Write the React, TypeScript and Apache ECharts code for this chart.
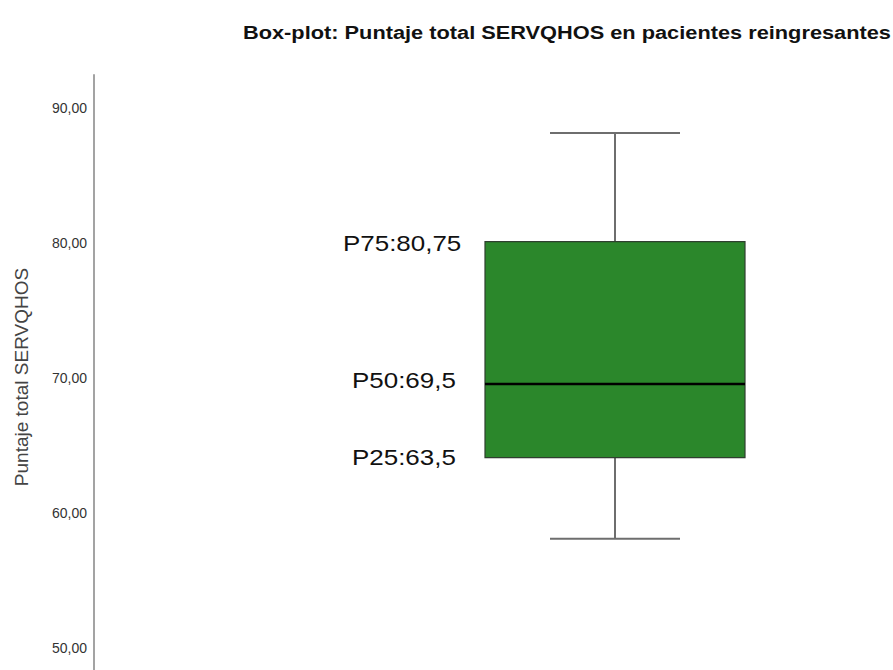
import React, { useEffect, useRef } from "react";
import * as echarts from "echarts";

const categories = ["Reingresantes"];
// [min, Q1, median, Q3, max] read from the drawn box
const boxValues = [58.1, 64.1, 69.55, 80.1, 88.15];
const tickValues = [50, 60, 70, 80, 90];
const annotationTexts = ["P75:80,75", "P50:69,5", "P25:63,5"];
const titleText = "Box-plot: Puntaje total SERVQHOS en pacientes reingresantes";
const yTitle = "Puntaje total SERVQHOS";

const FONT = "'Liberation Sans', Arial, sans-serif";

export default function App() {
  const ref = useRef<HTMLDivElement>(null);
  useEffect(() => {
    if (!ref.current) return;
    const chart = echarts.init(ref.current, undefined, { renderer: "svg" });
    const annPos = [
      { x: 343, y: 243 },
      { x: 352, y: 380 },
      { x: 352, y: 457 },
    ];
    chart.setOption({
      animation: false,
      backgroundColor: "#ffffff",
      grid: { left: 440, right: 103, top: 75, bottom: 0, containLabel: false },
      xAxis: {
        type: "category",
        data: categories,
        show: false,
      },
      yAxis: {
        type: "value",
        min: 48.37,
        max: 92.44,
        offset: 346,
        axisLine: { show: true, lineStyle: { color: "#a3a3a3", width: 2 } },
        axisTick: { show: false },
        splitLine: { show: false },
        axisLabel: {
          customValues: tickValues,
          margin: 7,
          fontFamily: FONT,
          fontSize: 14,
          color: "#333",
          formatter: (v: number) => v.toFixed(2).replace(".", ","),
        },
      },
      graphic: [
        {
          type: "text",
          x: 243,
          y: 33,
          scaleX: 1.21,
          style: {
            text: titleText,
            fontFamily: FONT,
            fontSize: 18,
            fontWeight: "bold",
            fill: "#111",
            align: "left",
            verticalAlign: "middle",
          },
        },
        {
          type: "text",
          x: 21,
          y: 377,
          rotation: Math.PI / 2,
          style: {
            text: yTitle,
            fontFamily: FONT,
            fontSize: 19,
            fill: "#444",
            align: "center",
            verticalAlign: "middle",
          },
        },
        ...annotationTexts.map((t, i) => ({
          type: "text",
          x: annPos[i].x,
          y: annPos[i].y,
          scaleX: 1.18,
          style: {
            text: t,
            fontFamily: FONT,
            fontSize: 22,
            fill: "#111",
            align: "left",
            verticalAlign: "middle",
          },
        })),
      ],
      series: [
        {
          type: "custom",
          data: [[0, ...boxValues]],
          encode: { x: 0, y: [1, 2, 3, 4, 5] },
          renderItem: (params: any, api: any) => {
            const x = api.value(0);
            const low = api.coord([x, api.value(1)]);
            const q1 = api.coord([x, api.value(2)]);
            const med = api.coord([x, api.value(3)]);
            const q3 = api.coord([x, api.value(4)]);
            const high = api.coord([x, api.value(5)]);
            const cx = low[0];
            const bw = 260;
            const cw = 130;
            const whisker = { stroke: "#6e6e6e", lineWidth: 2 };
            return {
              type: "group",
              children: [
                { type: "line", shape: { x1: cx, y1: high[1], x2: cx, y2: q3[1] }, style: whisker },
                { type: "line", shape: { x1: cx, y1: q1[1], x2: cx, y2: low[1] }, style: whisker },
                { type: "line", shape: { x1: cx - cw / 2, y1: high[1], x2: cx + cw / 2, y2: high[1] }, style: whisker },
                { type: "line", shape: { x1: cx - cw / 2, y1: low[1], x2: cx + cw / 2, y2: low[1] }, style: whisker },
                {
                  type: "rect",
                  shape: { x: cx - bw / 2, y: q3[1], width: bw, height: q1[1] - q3[1] },
                  style: { fill: "#2b872b", stroke: "#2f3f2f", lineWidth: 1.2 },
                },
                {
                  type: "line",
                  shape: { x1: cx - bw / 2, y1: med[1], x2: cx + bw / 2, y2: med[1] },
                  style: { stroke: "#000", lineWidth: 2.5 },
                },
              ],
            };
          },
        },
      ],
    });
    return () => chart.dispose();
  }, []);
  return <div ref={ref} style={{ width: 893, height: 670, position: "absolute", left: 0, top: 0 }} />;
}
